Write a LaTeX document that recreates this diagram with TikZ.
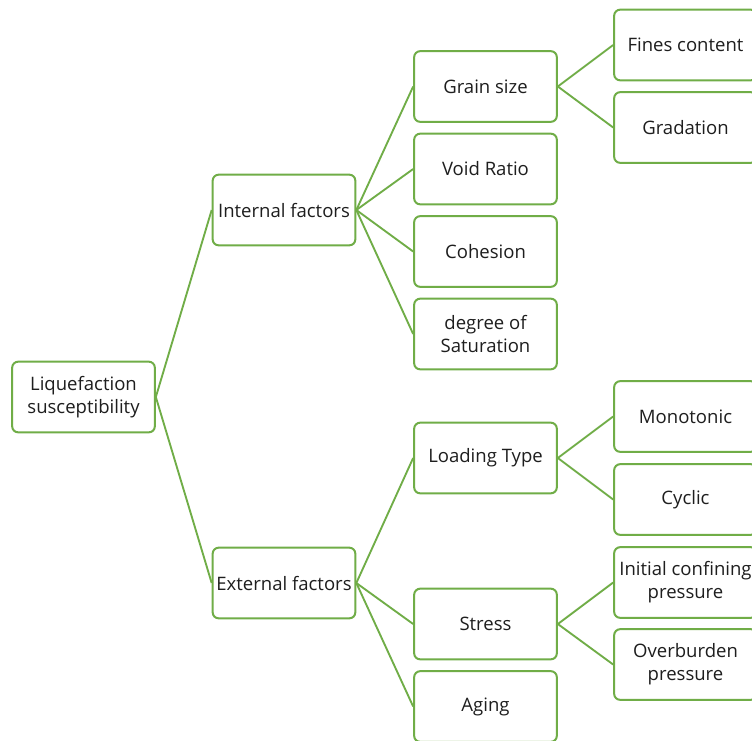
\documentclass[tikz,border=0pt]{standalone}
\usepackage{fontspec}
\setmainfont{Open Sans}
\usetikzlibrary{positioning}
\definecolor{leafgreen}{RGB}{112,173,71}
\definecolor{textgray}{RGB}{30,30,30}
\tikzset{
  fbox/.style={rectangle, rounded corners=4.5pt, draw=leafgreen, line width=1.5pt,
    fill=white, text=textgray, font=\fontsize{13.9}{17.3}\selectfont, align=center,
    minimum width=107pt, minimum height=53pt, inner sep=1pt},
  link/.style={draw=leafgreen, line width=1.4pt}
}
\begin{document}
\begin{tikzpicture}[x=0.75pt, y=-0.75pt]
    \clip (0,0) rectangle (752,740);
    \fill[white] (0,0) rectangle (752,740);
    % root and first level
    \node[fbox] (root) at (83.5,397) {Liquefaction\\susceptibility};
    \node[fbox] (internal) at (284,210) {Internal factors};
    \node[fbox] (external) at (284,583) {External factors};
    % internal factors
    \node[fbox] (grain) at (485.5,86.5) {Grain size};
    \node[fbox] (void) at (485.5,169) {Void Ratio};
    \node[fbox] (cohesion) at (485.5,251.5) {Cohesion};
    \node[fbox] (saturation) at (485.5,334) {degree of\\Saturation};
    % external factors
    \node[fbox] (loading) at (485.5,458) {Loading Type};
    \node[fbox] (stress) at (485.5,624) {Stress};
    \node[fbox] (aging) at (485.5,706.5) {Aging};
    % leaves
    \node[fbox] (fines) at (685.5,45) {Fines content};
    \node[fbox] (gradation) at (685.5,127.5) {Gradation};
    \node[fbox] (monotonic) at (685.5,416.5) {Monotonic};
    \node[fbox] (cyclic) at (685.5,499.5) {Cyclic};
    \node[fbox] (confining) at (685.5,582.5) {Initial confining\\pressure};
    \node[fbox] (overburden) at (685.5,664.5) {Overburden\\pressure};
    % connectors
    \foreach \c in {internal, external}
      \draw[link] (root.east) -- (\c.west);
    \foreach \c in {grain, void, cohesion, saturation}
      \draw[link] (internal.east) -- (\c.west);
    \foreach \c in {loading, stress, aging}
      \draw[link] (external.east) -- (\c.west);
    \foreach \c in {fines, gradation}
      \draw[link] (grain.east) -- (\c.west);
    \foreach \c in {monotonic, cyclic}
      \draw[link] (loading.east) -- (\c.west);
    \foreach \c in {confining, overburden}
      \draw[link] (stress.east) -- (\c.west);
\end{tikzpicture}
\end{document}
